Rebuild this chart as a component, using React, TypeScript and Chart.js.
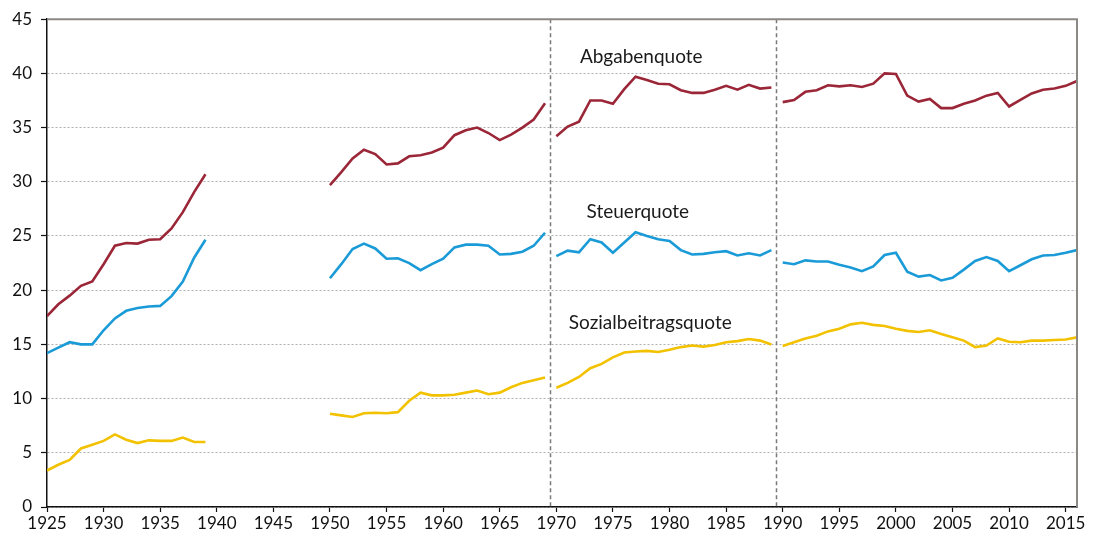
import React, { useEffect, useRef } from "react";
import { Chart, registerables } from "chart.js";

Chart.register(...registerables);

// Segment start years (series are broken at 1940-1949, 1969/70 and 1989/90)
const segmentStarts = [1925, 1950, 1970, 1990];
const breakYears = [1969.5, 1989.5];
const xTickYears = [1925, 1930, 1935, 1940, 1945, 1950, 1955, 1960, 1965, 1970, 1975, 1980, 1985, 1990, 1995, 2000, 2005, 2010, 2015];

// Abgabenquote (dark red)
const abgaben1925 = [17.6, 18.7, 19.5, 20.4, 20.8, 22.4, 24.1, 24.35, 24.3, 24.65, 24.7, 25.7, 27.2, 29.05, 30.7];
const abgaben1950 = [29.7, 30.9, 32.15, 32.95, 32.55, 31.6, 31.7, 32.35, 32.45, 32.7, 33.15, 34.3, 34.75, 35.0, 34.5, 33.85, 34.35, 35.0, 35.75, 37.25];
const abgaben1970 = [34.2, 35.1, 35.55, 37.5, 37.5, 37.2, 38.55, 39.7, 39.4, 39.05, 39.0, 38.45, 38.2, 38.2, 38.5, 38.85, 38.5, 38.95, 38.6, 38.7];
const abgaben1990 = [37.35, 37.55, 38.3, 38.45, 38.9, 38.8, 38.9, 38.75, 39.05, 40.0, 39.95, 37.95, 37.4, 37.65, 36.8, 36.8, 37.2, 37.5, 37.95, 38.2, 36.95, 37.55, 38.15, 38.5, 38.6, 38.85, 39.3];

// Steuerquote (blue)
const steuer1925 = [14.2, 14.7, 15.2, 15.0, 15.0, 16.3, 17.4, 18.1, 18.35, 18.5, 18.55, 19.45, 20.8, 23.0, 24.65];
const steuer1950 = [21.1, 22.4, 23.8, 24.3, 23.85, 22.9, 22.95, 22.5, 21.85, 22.4, 22.9, 23.95, 24.2, 24.2, 24.1, 23.3, 23.35, 23.55, 24.1, 25.3];
const steuer1970 = [23.15, 23.65, 23.5, 24.7, 24.4, 23.45, 24.4, 25.35, 25.0, 24.7, 24.55, 23.7, 23.3, 23.35, 23.5, 23.6, 23.2, 23.4, 23.2, 23.7];
const steuer1990 = [22.55, 22.4, 22.75, 22.65, 22.65, 22.35, 22.1, 21.75, 22.2, 23.25, 23.45, 21.7, 21.25, 21.4, 20.9, 21.15, 21.9, 22.7, 23.05, 22.7, 21.75, 22.3, 22.85, 23.2, 23.25, 23.45, 23.7];

// Sozialbeitragsquote (yellow)
const sozial1925 = [3.37, 3.9, 4.35, 5.4, 5.75, 6.1, 6.7, 6.2, 5.9, 6.15, 6.1, 6.1, 6.4, 6.0, 6.0];
const sozial1950 = [8.6, 8.45, 8.3, 8.65, 8.7, 8.65, 8.75, 9.8, 10.55, 10.3, 10.3, 10.35, 10.55, 10.75, 10.4, 10.55, 11.05, 11.45, 11.7, 11.95];
const sozial1970 = [11.0, 11.45, 12.0, 12.8, 13.2, 13.8, 14.25, 14.35, 14.4, 14.3, 14.5, 14.75, 14.9, 14.8, 14.95, 15.2, 15.3, 15.5, 15.35, 15.0];
const sozial1990 = [14.85, 15.2, 15.55, 15.8, 16.2, 16.45, 16.85, 17.0, 16.8, 16.7, 16.45, 16.25, 16.15, 16.3, 15.95, 15.65, 15.35, 14.75, 14.9, 15.55, 15.25, 15.2, 15.35, 15.35, 15.4, 15.45, 15.65];

// Series labels and where they sit (in data units)
const seriesNames = ["Abgabenquote", "Steuerquote", "Sozialbeitragsquote"];
const labelYears = [1977.5, 1977.2, 1978.3];
const labelValues = [41.5, 27.2, 17.0];
const seriesColors = ["#9a2638", "#1a9bd7", "#f2c200"];

const FONT = "Lato, 'Noto Sans', sans-serif";

function buildSeries(segments: number[][]) {
  const pts: { x: number; y: number | null }[] = [];
  segments.forEach((seg, i) => {
    if (i > 0) pts.push({ x: segmentStarts[i] - 0.5, y: null });
    seg.forEach((v, j) => pts.push({ x: segmentStarts[i] + j, y: v }));
  });
  return pts;
}

const overlayPlugin = {
  id: "overlay",
  beforeDatasetsDraw(chart: any) {
    const { ctx, chartArea, scales } = chart;
    ctx.save();
    ctx.strokeStyle = "#7a7a7a";
    ctx.lineWidth = 1.5;
    ctx.setLineDash([4, 3]);
    breakYears.forEach((yr) => {
      const x = Math.round(scales.x.getPixelForValue(yr)) - 0.5;
      ctx.beginPath();
      ctx.moveTo(x, chartArea.top);
      ctx.lineTo(x, chartArea.bottom);
      ctx.stroke();
    });
    ctx.restore();
  },
  afterDraw(chart: any) {
    const { ctx, chartArea, scales } = chart;
    ctx.save();
    ctx.strokeStyle = "#8c8884";
    ctx.lineWidth = 2;
    ctx.setLineDash([]);
    ctx.beginPath();
    ctx.moveTo(chartArea.left, chartArea.top);
    ctx.lineTo(chartArea.right, chartArea.top);
    ctx.lineTo(chartArea.right, chartArea.bottom);
    ctx.stroke();
    ctx.fillStyle = "#1a1a1a";
    ctx.font = `19px ${FONT}`;
    ctx.textAlign = "center";
    ctx.textBaseline = "middle";
    seriesNames.forEach((name, i) => {
      ctx.fillText(name, scales.x.getPixelForValue(labelYears[i]), scales.y.getPixelForValue(labelValues[i]));
    });
    ctx.restore();
  },
};

export default function App() {
  const ref = useRef<HTMLCanvasElement | null>(null);
  useEffect(() => {
    if (!ref.current) return;
    const chart = new Chart(ref.current, {
      type: "line",
      data: {
        datasets: [
          { label: seriesNames[0], data: buildSeries([abgaben1925, abgaben1950, abgaben1970, abgaben1990]), borderColor: seriesColors[0] },
          { label: seriesNames[1], data: buildSeries([steuer1925, steuer1950, steuer1970, steuer1990]), borderColor: seriesColors[1] },
          { label: seriesNames[2], data: buildSeries([sozial1925, sozial1950, sozial1970, sozial1990]), borderColor: seriesColors[2] },
        ] as any,
      },
      options: {
        animation: false,
        responsive: false,
        spanGaps: false,
        layout: { padding: { left: 0, right: 16, top: 16, bottom: 0 } },
        elements: {
          line: { borderWidth: 2.6, tension: 0, borderCapStyle: "butt", borderJoinStyle: "miter" },
          point: { radius: 0, hoverRadius: 0 },
        },
        plugins: { legend: { display: false }, tooltip: { enabled: false } },
        scales: {
          x: {
            type: "linear",
            min: 1925,
            max: 2016,
            afterBuildTicks: (scale: any) => {
              scale.ticks = xTickYears.map((v) => ({ value: v }));
            },
            afterFit: (scale: any) => {
              scale.height = 27;
            },
            grid: { display: true, drawOnChartArea: false, drawTicks: true, tickLength: 5, tickColor: "#111", tickWidth: 1.2 },
            border: { display: true, color: "#111", width: 1.5 },
            ticks: {
              color: "#111",
              padding: 1,
              maxRotation: 0,
              autoSkip: false,
              font: { family: FONT, size: 17 },
              callback: (v: any) => String(v),
            },
          },
          y: {
            type: "linear",
            min: 0,
            max: 45,
            afterFit: (scale: any) => {
              scale.width = 47;
            },
            grid: { color: "#b0b0b0", lineWidth: 1, drawTicks: true, tickLength: 6, tickColor: "#111", tickWidth: 1.2, tickBorderDash: [] },
            border: { display: true, color: "#111", width: 1.5, dash: [2, 2] },
            ticks: {
              stepSize: 5,
              color: "#111",
              padding: 9,
              font: { family: FONT, size: 17 },
              callback: (v: any) => String(v),
            },
          },
        },
      },
      plugins: [overlayPlugin],
    } as any);
    return () => chart.destroy();
  }, []);
  return (
    <div style={{ position: "absolute", left: 0, top: 0, width: 1093, height: 534, background: "#fff" }}>
      <canvas ref={ref} width={1093} height={534} />
    </div>
  );
}
